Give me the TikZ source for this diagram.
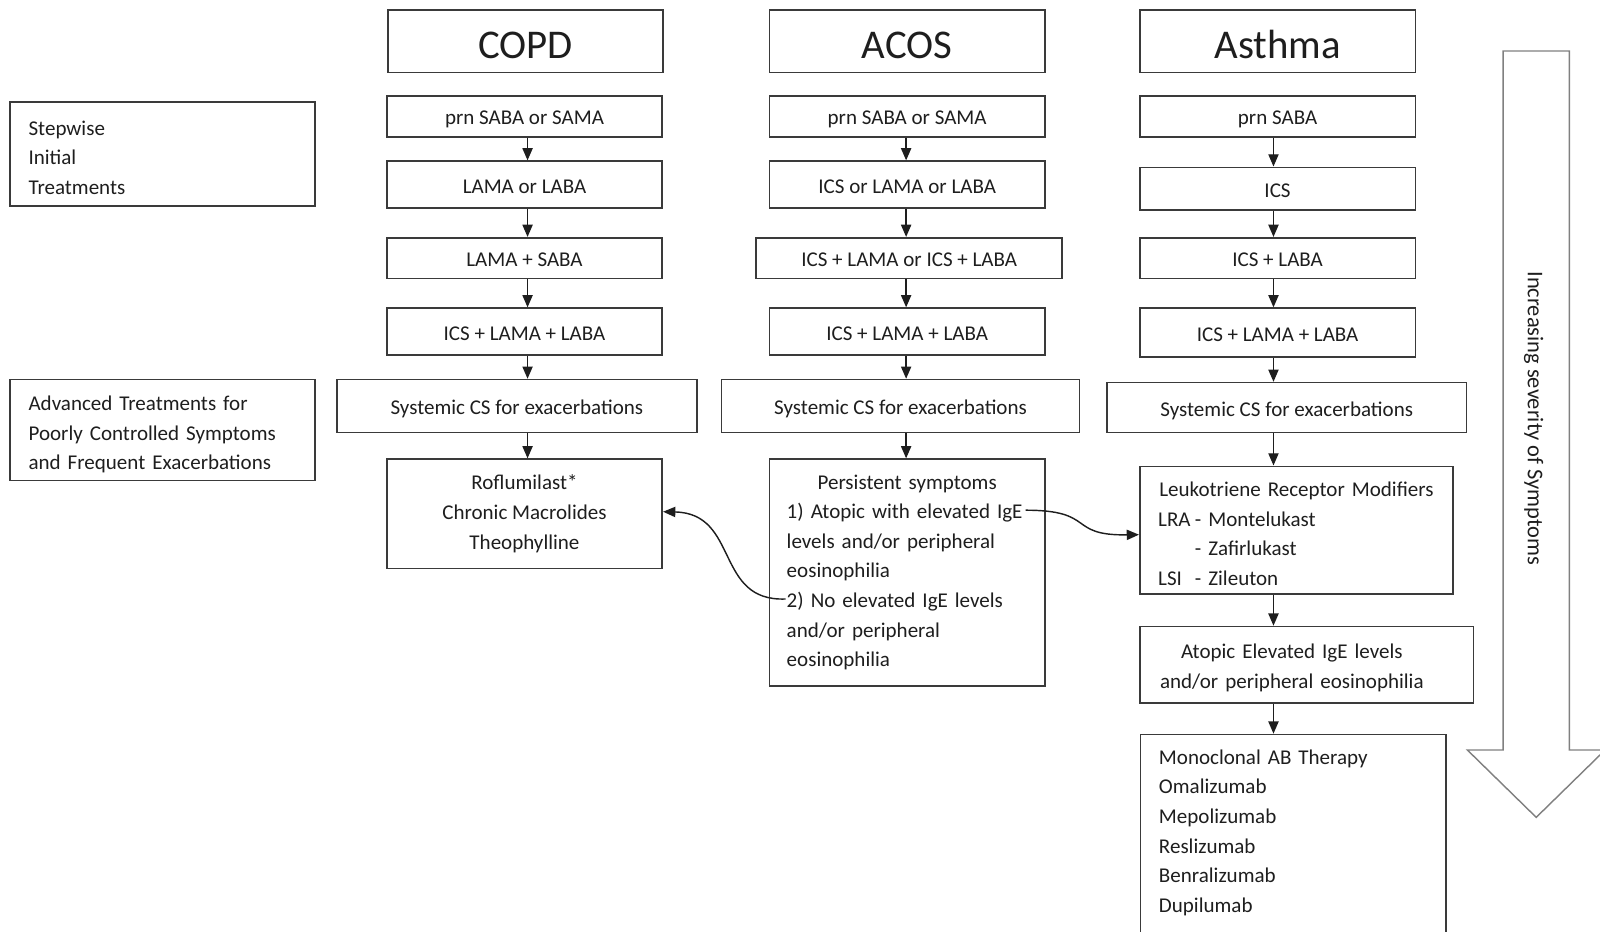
\documentclass[tikz,border=0pt]{standalone}
\usepackage{fontspec}
\setmainfont{Carlito}
\usetikzlibrary{arrows.meta}
\definecolor{txt}{HTML}{1E1E1E}
\definecolor{ln}{HTML}{3A3A3A}
\definecolor{gr}{HTML}{808080}
\newcommand\toppad[1]{\rule{0pt}{#1}}
\begin{document}
\begin{tikzpicture}[x=0.5pt,y=-0.5pt,
 box/.style={draw=ln, line width=0.8pt, inner sep=0pt, align=center, text=txt, font=\fontsize{10.3}{14.5}\selectfont},
 one/.style={box, text height=10.3pt, text depth=2pt},
 ttl/.style={box, font=\fontsize{20}{24}\selectfont, minimum width=135pt, minimum height=30.5pt, text height=16.9pt, text depth=0pt},
 arr/.style={draw=txt, line width=0.7pt, -{Triangle[length=6pt,width=5pt]}},
]
\useasboundingbox (0,0) rectangle (1568,913);
% headers
\node[ttl] (hc) at (515,40.5) {COPD};
\node[ttl] (ha) at (889,40.5) {ACOS};
\node[ttl] (hs) at (1252,40.5) {Asthma};
% left labels
\node[box, text width=131.5pt, inner xsep=9pt, align=left, minimum height=51pt] (l1) at (159.5,151) {\toppad{10.7pt}Stepwise\\Initial\\Treatments};
\node[box, text width=131.5pt, inner xsep=9pt, align=left, minimum height=49.5pt] (l2) at (159.5,421.5) {\toppad{11.7pt}Advanced Treatments for\\Poorly Controlled Symptoms\\and Frequent Exacerbations};
% COPD column
\node[one, minimum width=135pt, minimum height=20pt] (c1) at (514,114) {prn SABA or SAMA};
\node[one, minimum width=135pt, minimum height=23pt] (c2) at (514,181) {LAMA or LABA};
\node[one, minimum width=135pt, minimum height=20pt] (c3) at (514,253) {LAMA + SABA};
\node[one, minimum width=135pt, minimum height=23pt] (c4) at (514,325) {ICS + LAMA + LABA};
\node[one, minimum width=176.5pt, minimum height=26pt] (c5) at (506.5,398) {Systemic CS for exacerbations};
\node[box, minimum width=135pt, minimum height=53.5pt] (c6) at (514,503.5) {Roflumilast*\\Chronic Macrolides\\Theophylline};
% ACOS column
\node[one, minimum width=135pt, minimum height=20pt] (a1) at (889,114) {prn SABA or SAMA};
\node[one, minimum width=135pt, minimum height=23pt] (a2) at (889,181) {ICS or LAMA or LABA};
\node[one, minimum width=150pt, minimum height=20pt] (a3) at (891,253) {ICS + LAMA or ICS + LABA};
\node[one, minimum width=135pt, minimum height=23pt] (a4) at (889,325) {ICS + LAMA + LABA};
\node[one, minimum width=175.5pt, minimum height=26pt] (a5) at (882.5,398) {Systemic CS for exacerbations};
\node[box, text width=118pt, inner xsep=8.5pt, align=left, minimum height=111pt] (a6) at (889,561) {\makebox[118pt][c]{Persistent symptoms}\\1) Atopic with elevated IgE\\levels and/or peripheral\\eosinophilia\\2) No elevated IgE levels\\and/or peripheral\\eosinophilia};
% Asthma column
\node[one, minimum width=135pt, minimum height=20pt] (s1) at (1252,114) {prn SABA};
\node[one, minimum width=135pt, minimum height=21pt] (s2) at (1252,185) {ICS};
\node[one, minimum width=135pt, minimum height=20pt] (s3) at (1252,253) {ICS + LABA};
\node[one, minimum width=135pt, minimum height=24pt] (s4) at (1252,326) {ICS + LAMA + LABA};
\node[one, minimum width=176pt, minimum height=24.5pt] (s5) at (1261,399.5) {Systemic CS for exacerbations};
\node[box, text width=135.5pt, inner xsep=9pt, align=left, minimum height=62.5pt] (s6) at (1270.5,519.5) {\toppad{10.7pt}\makebox[135.5pt][c]{Leukotriene Receptor Modifiers}\\\makebox[18pt][l]{LRA}- Montelukast\\\makebox[18pt][l]{}- Zafirlukast\\\makebox[18pt][l]{LSI}- Zileuton};
\node[box, text width=163.5pt, minimum height=37.5pt] (s7) at (1280.5,651.5) {\toppad{10.2pt}Atopic Elevated IgE levels\rule{14.5pt}{0pt}\\and/or peripheral eosinophilia\rule{14.5pt}{0pt}};
\node[box, anchor=north west, text width=131.5pt, inner xsep=9pt, align=left, minimum height=109pt] (s8) at (1117,719) {Monoclonal AB Therapy\\Omalizumab\\Mepolizumab\\Reslizumab\\Benralizumab\\Dupilumab\\\mbox{}};
% column arrows
\coordinate (xa) at (517,0);
\coordinate (xb) at (888,0);
\coordinate (xc) at (1248,0);
\foreach \u/\v in {c1/c2,c2/c3,c3/c4,c4/c5,c5/c6}{\draw[arr] (\u.south -| xa) -- (\v.north -| xa);}
\foreach \u/\v in {a1/a2,a2/a3,a3/a4,a4/a5,a5/a6}{\draw[arr] (\u.south -| xb) -- (\v.north -| xb);}
\foreach \u/\v in {s1/s2,s2/s3,s3/s4,s4/s5,s5/s6,s6/s7,s7/s8}{\draw[arr] (\u.south -| xc) -- (\v.north -| xc);}
% curved connectors
\coordinate (p1) at (1005,500);
\coordinate (p2) at (770,587);
\draw[arr] (p1) .. controls (1075,500) and (1045,525) .. ([yshift=-2.25pt]s6.west);
\draw[arr] (p2) .. controls (700,590) and (725,503) .. ([yshift=1pt]c6.east);
% severity arrow
\draw[gr, line width=0.7pt, fill=white] (1473,50) -- (1538,50) -- (1538,735) -- (1573,735) -- (1505.5,801) -- (1438,735) -- (1473,735) -- cycle;
\node[rotate=-90, text=txt, font=\fontsize{11}{13}\selectfont] (sev) at (1503,410) {Increasing severity of Symptoms};
\end{tikzpicture}
\end{document}
